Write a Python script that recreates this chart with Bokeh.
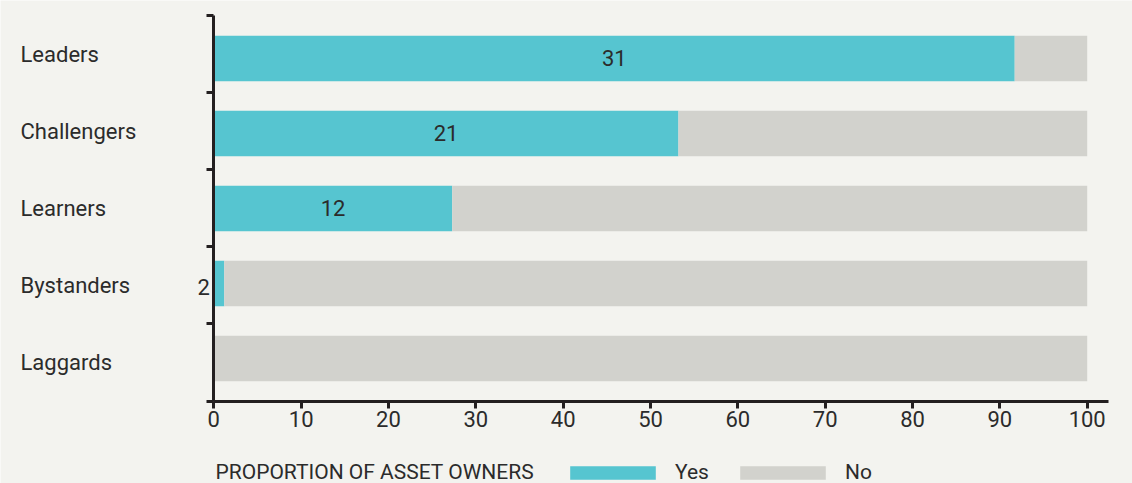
from bokeh.plotting import figure
from bokeh.models import (ColumnDataSource, Range1d, FixedTicker, Label, LinearAxis,
                          Legend, LegendItem)
from bokeh.core.properties import value
from bokeh.embed import file_html
from bokeh.resources import INLINE

categories = ["Leaders", "Challengers", "Learners", "Bystanders", "Laggards"]
yes_pct = [91.7, 53.2, 27.3, 1.2, 0.0]
no_pct = [8.3, 46.8, 72.7, 98.8, 100.0]
yes_count = [31, 21, 12, 2, 0]
x_ticks = [0, 10, 20, 30, 40, 50, 60, 70, 80, 90, 100]
series_names = ["Yes", "No"]
series_colors = ["#56C5D0", "#D2D2CD"]
axis_title = "PROPORTION OF ASSET OWNERS"

FONT = "Roboto"
FS = "22px"
TEXT = "#2b2b2b"
BG = "#F3F3EF"
AXIS = "#231F20"

W, H = 1132, 483
PX_X = 8.734      # pixels per percentage point
X0_PX = 213.3     # pixel of x = 0
PX_Y = 77.1       # pixels per category band (axis ticks)
Y0_PX = 15.0      # pixel of the top band edge
BAR_PX = 75.0     # pixels between bar centres
BAR0_PX = 58.0    # pixel of the first bar centre

n = len(categories)
ypos = [i + 0.5 for i in range(n)]

src = ColumnDataSource(dict(cat=categories, y=ypos, Yes=yes_pct, No=no_pct))

p = figure(width=W, height=H,
           x_range=Range1d(-X0_PX / PX_X, (W - X0_PX) / PX_X),
           y_range=Range1d((H - Y0_PX) / PX_Y, -Y0_PX / PX_Y),
           x_axis_location=None, y_axis_location=None,
           output_backend="svg", toolbar_location=None, min_border=0)
p.extra_y_ranges = {"bars": Range1d(0.5 + (H - BAR0_PX) / BAR_PX, 0.5 - BAR0_PX / BAR_PX)}
p.background_fill_color = BG
p.border_fill_color = BG
p.outline_line_color = None
p.grid.visible = False

rs = p.hbar_stack(series_names, y="y", height=0.607, color=series_colors, source=src,
                  line_color=None, y_range_name="bars")

xa = LinearAxis(fixed_location=n, bounds=(0, 102.4), ticker=FixedTicker(ticks=x_ticks))
xa.axis_line_width = 3
xa.axis_line_color = AXIS
xa.major_tick_line_width = 3
xa.major_tick_line_color = AXIS
xa.major_tick_out = 7
xa.major_tick_in = 0
xa.minor_tick_line_color = None
xa.major_label_text_font = FONT
xa.major_label_text_font_size = FS
xa.major_label_text_color = TEXT
xa.major_label_standoff = 3
p.add_layout(xa, "below")

ya = LinearAxis(fixed_location=0, bounds=(0, n), ticker=FixedTicker(ticks=list(range(n + 1))))
ya.axis_line_width = 3
ya.axis_line_color = AXIS
ya.major_tick_line_width = 3
ya.major_tick_line_color = AXIS
ya.major_tick_out = 7
ya.major_tick_in = 0
ya.minor_tick_line_color = None
ya.major_label_overrides = {i: "" for i in range(n + 1)}
ya.major_label_text_color = None
p.add_layout(ya, "left")

# category labels, left aligned at the page's left
p.text(x=-(X0_PX - 20) / PX_X, y="y", text="cat", source=src,
       text_align="left", text_baseline="middle",
       text_font=value(FONT), text_font_size=FS, text_color=TEXT)

inside = [i for i in range(n) if yes_count[i] > 0 and yes_pct[i] >= 5]
outside = [i for i in range(n) if yes_count[i] > 0 and yes_pct[i] < 5]
src_in = ColumnDataSource(dict(x=[yes_pct[i] / 2 for i in inside], y=[ypos[i] for i in inside],
                               t=[str(yes_count[i]) for i in inside]))
src_out = ColumnDataSource(dict(x=[0 for i in outside], y=[ypos[i] for i in outside],
                                t=[str(yes_count[i]) for i in outside]))
p.text(x="x", y="y", text="t", source=src_in, text_align="center", text_baseline="middle",
       text_font=value(FONT), text_font_size=FS, text_color=TEXT, y_range_name="bars",
       y_offset=-1)
p.text(x="x", y="y", text="t", source=src_out, text_align="right", x_offset=-4,
       text_baseline="middle", text_font=value(FONT), text_font_size=FS, text_color=TEXT,
       y_range_name="bars", y_offset=3)

p.add_layout(Label(x=215, y=12, x_units="screen", y_units="screen", text=axis_title,
                   text_align="left", text_baseline="middle", text_font=FONT,
                   text_font_size="21px", text_color=TEXT))

legend = Legend(items=[LegendItem(label=nm, renderers=[r]) for nm, r in zip(series_names, rs)],
                orientation="horizontal", location=(559, -1),
                glyph_width=107, glyph_height=17, label_standoff=9, spacing=20,
                padding=0, margin=0, border_line_color=None, background_fill_alpha=0,
                label_text_font=FONT, label_text_font_size="21px", label_text_color=TEXT)
p.add_layout(legend)

open("out.html", "w").write(file_html(p, INLINE))
